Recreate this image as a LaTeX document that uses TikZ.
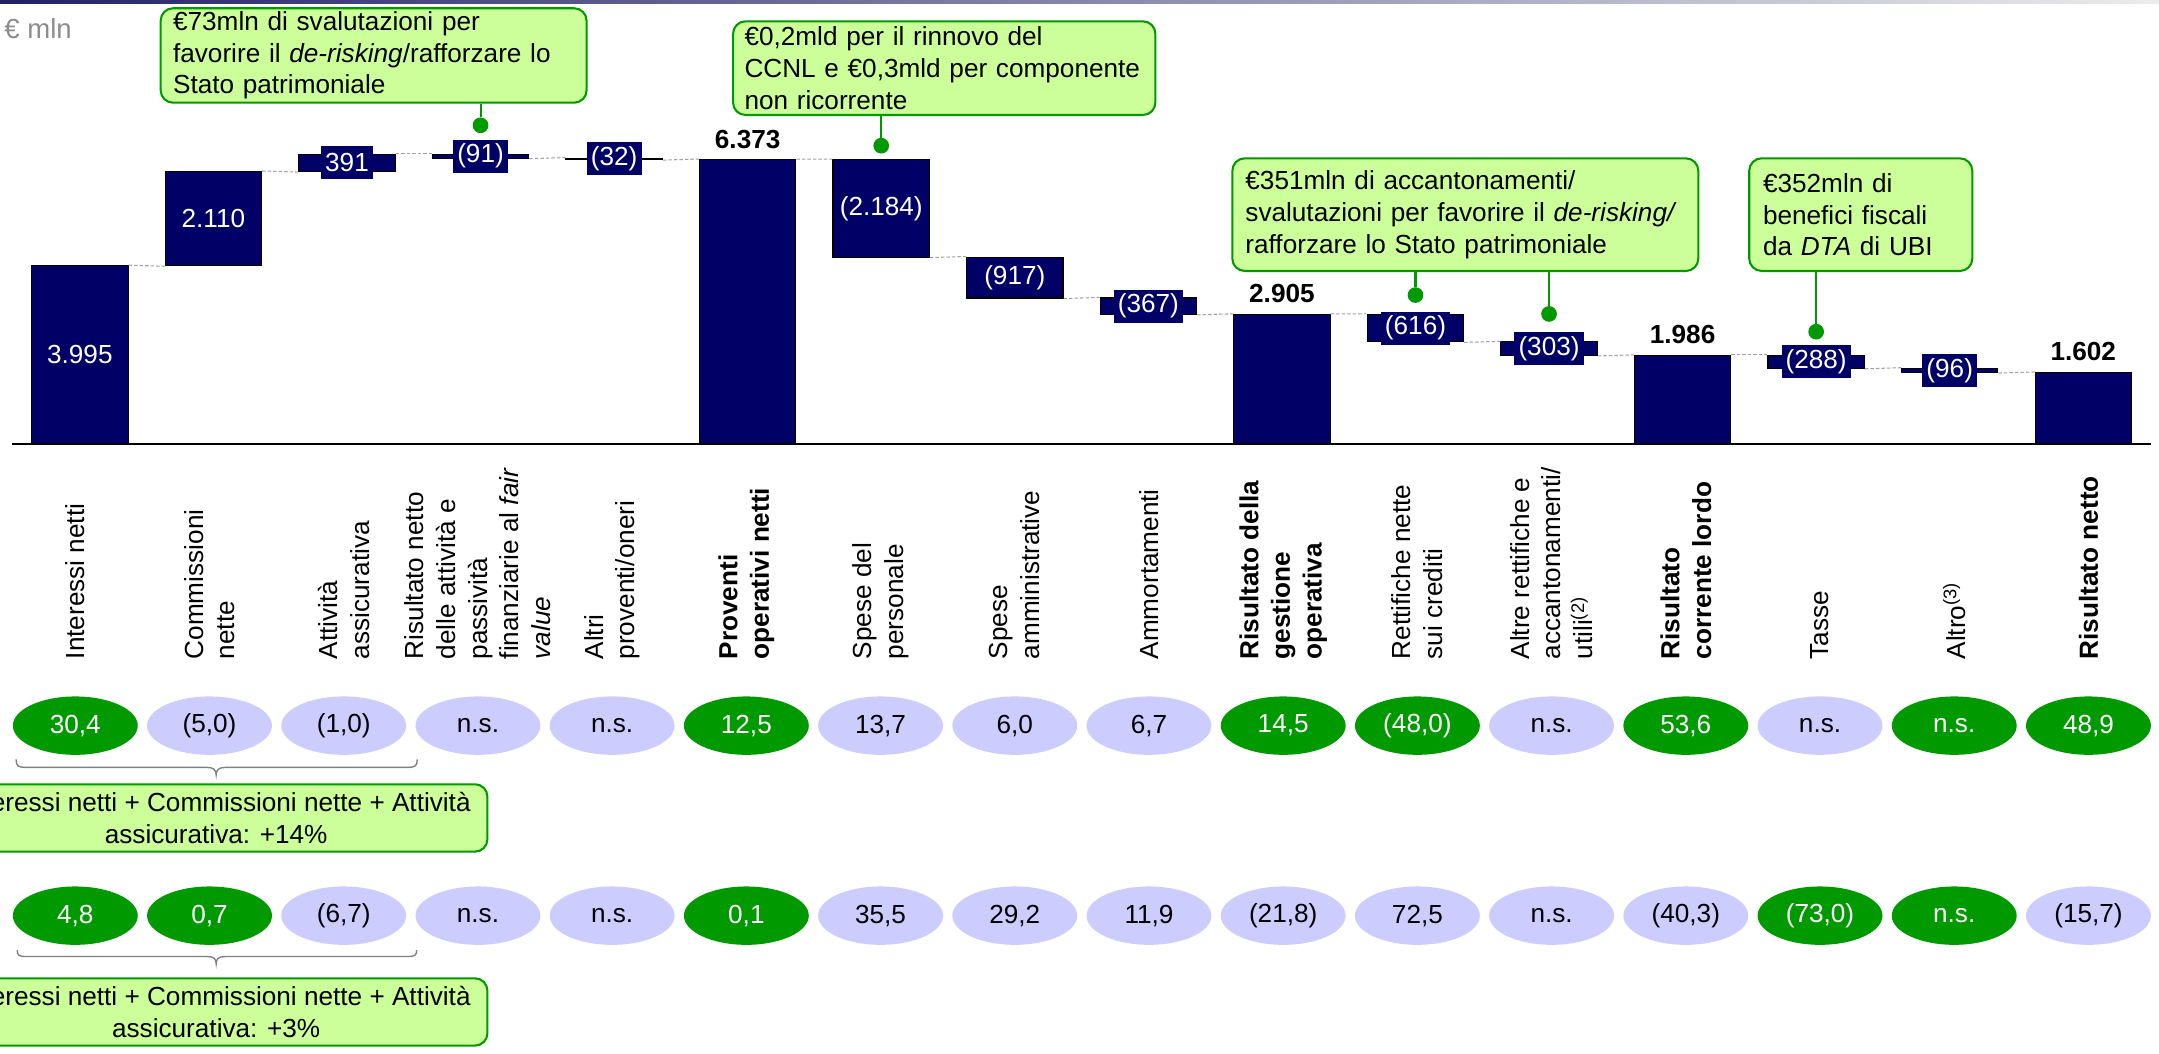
\documentclass[tikz,border=0pt]{standalone}
\usepackage{fontspec}
\setmainfont{Liberation Sans}
\usetikzlibrary{shapes.geometric}
\definecolor{navy}{HTML}{000066}
\definecolor{okgreen}{HTML}{009900}
\definecolor{lightgreen}{HTML}{CCFF99}
\definecolor{lav}{HTML}{CCCCFF}
\definecolor{dashgray}{HTML}{A0A0A0}
\definecolor{bracegray}{HTML}{808080}
\definecolor{unitgray}{HTML}{8C8C8C}
\definecolor{topnavy}{HTML}{202068}
\definecolor{toplight}{HTML}{ECECEC}
\newcommand{\myfs}{\fontsize{19}{23}\selectfont}
\begin{document}
\begin{tikzpicture}[x=1pt,y=-1pt,
  wfbar/.style={rectangle, draw=black, line width=0.8pt, fill=navy, minimum width=70pt, inner sep=0pt},
  vlab/.style={rectangle, fill=navy, text=white, inner xsep=3pt, inner ysep=0pt, minimum height=24pt, font=\myfs},
  totlab/.style={anchor=base, inner sep=0pt, font=\myfs\bfseries, text=black},
  callout/.style={rectangle, draw=okgreen, fill=lightgreen, line width=1.5pt, rounded corners=9pt, font=\myfs, inner ysep=0pt, text=black},
  ptr/.style={draw=okgreen, line width=1.5pt},
  gdot/.style={circle, fill=okgreen, minimum size=11.4pt, inner sep=0pt},
  catlab/.style={rotate=90, anchor=west, align=left, inner sep=0pt, font=\myfs, text=black},
  pill/.style={ellipse, minimum width=90.7pt, minimum height=42.4pt, inner sep=0pt, font=\myfs},
  pg/.style={pill, fill=okgreen, text=white},
  pl/.style={pill, fill=lav, text=black},
  conn/.style={draw=dashgray, dash pattern=on 2.5pt off 1.5pt, line width=0.75pt},
  brc/.style={draw=bracegray, line width=1pt}
]
\useasboundingbox (0,0) rectangle (1568,765);
\clip (0,0) rectangle (1568,765);
\fill[white] (0,0) rectangle (1568,765);
\shade[left color=topnavy, right color=toplight] (0,0) rectangle (1568,2.2);
\node[anchor=base west, inner sep=0pt, text=unitgray, font=\fontsize{20}{24}\selectfont] (unit) at (3,28) {€ mln};

% ---- bars ----
\node[wfbar, minimum height=129.52pt] (b0) at (58,257.74) {};
\node[wfbar, minimum height=68.40pt] (b1) at (155,158.78) {};
\node[wfbar, minimum height=12.68pt] (b2) at (252,118.24) {};
\node[wfbar, minimum height=2.95pt] (b3) at (349,113.375) {};
\node[wfbar, minimum height=1.04pt] (b4) at (446,115.37) {};
\node[wfbar, minimum height=206.61pt] (b5) at (543,219.195) {};
\node[wfbar, minimum height=70.80pt] (b6) at (640,151.29) {};
\node[wfbar, minimum height=29.73pt] (b7) at (737,201.555) {};
\node[wfbar, minimum height=11.90pt] (b8) at (834,222.37) {};
\node[wfbar, minimum height=94.18pt] (b9) at (931,275.41) {};
\node[wfbar, minimum height=19.97pt] (b10) at (1028,238.305) {};
\node[wfbar, minimum height=9.82pt] (b11) at (1125,253.2) {};
\node[wfbar, minimum height=64.39pt] (b12) at (1222,290.305) {};
\node[wfbar, minimum height=9.34pt] (b13) at (1319,262.78) {};
\node[wfbar, minimum height=3.11pt] (b14) at (1416,269.005) {};
\node[wfbar, minimum height=51.94pt] (b15) at (1513,296.53) {};

% ---- dashed connectors ----
\draw[conn] (b0.north east) -- (b1.south west);
\draw[conn] (b1.north east) -- (b2.south west);
\draw[conn] (b2.north east) -- (b3.north west);
\draw[conn] (b3.south east) -- (b4.north west);
\draw[conn] (b4.south east) -- (b5.north west);
\draw[conn] (b5.north east) -- (b6.north west);
\draw[conn] (b6.south east) -- (b7.north west);
\draw[conn] (b7.south east) -- (b8.north west);
\draw[conn] (b8.south east) -- (b9.north west);
\draw[conn] (b9.north east) -- (b10.north west);
\draw[conn] (b10.south east) -- (b11.north west);
\draw[conn] (b11.south east) -- (b12.north west);
\draw[conn] (b12.north east) -- (b13.north west);
\draw[conn] (b13.south east) -- (b14.north west);
\draw[conn] (b14.south east) -- (b15.north west);

% ---- axis ----
\draw[black, line width=1.5pt] (9,322.5) -- (1562,322.5);

% ---- value labels ----
\node[vlab] (v0) at (b0) {3.995};
\node[vlab] (v1) at (b1) {2.110};
\node[vlab] (v2) at (b2) {391};
\node[vlab] (v3) at (b3) {(91)};
\node[vlab] (v4) at (b4) {(32)};
\node[totlab] (v5) at ([yshift=8pt]b5.north) {6.373};
\node[vlab] (v6) at (b6) {(2.184)};
\node[vlab] (v7) at (b7) {(917)};
\node[vlab] (v8) at (b8) {(367)};
\node[totlab] (v9) at ([yshift=8pt]b9.north) {2.905};
\node[vlab] (v10) at (b10) {(616)};
\node[vlab] (v11) at (b11) {(303)};
\node[totlab] (v12) at ([yshift=8pt]b12.north) {1.986};
\node[vlab] (v13) at (b13) {(288)};
\node[vlab] (v14) at (b14) {(96)};
\node[totlab] (v15) at ([yshift=8pt]b15.north) {1.602};

% ---- callouts ----
\node[callout, text width=291.3pt, inner xsep=9pt, minimum width=309.3pt, minimum height=68.6pt, align=left] (c1) at (271.35,40.3)
  {€73mln di svalutazioni per\\favorire il \textit{de-risking}/rafforzare lo\\Stato patrimoniale};
\node[callout, text width=290.1pt, inner xsep=8.3pt, minimum width=306.7pt, minimum height=68pt, align=left] (c2) at (685.75,49.5)
  {€0,2mld per il rinnovo del\\CCNL e €0,3mld per componente\\non ricorrente};
\node[callout, text width=319.4pt, inner xsep=9.5pt, minimum width=338.4pt, minimum height=81.8pt, align=left] (c3) at (1064.2,155.9)
  {€351mln di accantonamenti/\\svalutazioni per favorire il \textit{de-risking/}\\rafforzare lo Stato patrimoniale};
\node[callout, text width=142pt, inner xsep=10pt, minimum width=162pt, minimum height=81.8pt, align=left] (c4) at (1351.4,155.9)
  {€352mln di\\benefici fiscali\\da \textit{DTA} di UBI};

\node[gdot] (d1) at (349,91) {};
\node[gdot] (d2) at (640,105.8) {};
\node[gdot] (d3) at (1028,214.3) {};
\node[gdot] (d4) at (1125,228) {};
\node[gdot] (d5) at (1319,240.9) {};
\draw[ptr] (c1.south -| d1) -- (d1);
\draw[ptr] (c2.south -| d2) -- (d2);
\draw[ptr] (c3.south -| d3) -- (d3);
\draw[ptr] (c3.south -| d4) -- (d4);
\draw[ptr] (c4.south -| d5) -- (d5);

% ---- category labels ----
\node[catlab] (n0) at (54.7,479) {Interessi netti};
\node[catlab] (n1) at (152.17,479) {Commissioni\\nette};
\node[catlab] (n2) at (249.64,479) {Attività\\assicurativa};
\node[catlab] (n3) at (347.11,479) {Risultato netto\\delle attività e\\passività\\finanziarie al \textit{fair}\\\textit{value}};
\node[catlab] (n4) at (444.58,479) {Altri\\proventi/oneri};
\node[catlab, font=\myfs\bfseries] (n5) at (542.05,479) {Proventi\\operativi netti};
\node[catlab] (n6) at (639.52,479) {Spese del\\personale};
\node[catlab] (n7) at (736.99,479) {Spese\\amministrative};
\node[catlab] (n8) at (834.46,479) {Ammortamenti};
\node[catlab, font=\myfs\bfseries] (n9) at (931.93,479) {Risultato della\\gestione\\operativa};
\node[catlab] (n10) at (1029.4,479) {Rettifiche nette\\sui crediti};
\node[catlab] (n11) at (1126.87,479) {Altre rettifiche e\\accantonamenti/\\utili\textsuperscript{(2)}};
\node[catlab, font=\myfs\bfseries] (n12) at (1224.34,479) {Risultato\\corrente lordo};
\node[catlab] (n13) at (1321.81,479) {Tasse};
\node[catlab] (n14) at (1419.28,479) {Altro\textsuperscript{(3)}};
\node[catlab, font=\myfs\bfseries] (n15) at (1516.75,479) {Risultato netto};

% ---- row 1 ----
\node[pg] (r1c0) at (54.7,527) {30,4};
\node[pl] (r1c1) at (152.17,527) {(5,0)};
\node[pl] (r1c2) at (249.64,527) {(1,0)};
\node[pl] (r1c3) at (347.11,527) {n.s.};
\node[pl] (r1c4) at (444.58,527) {n.s.};
\node[pg] (r1c5) at (542.05,527) {12,5};
\node[pl] (r1c6) at (639.52,527) {13,7};
\node[pl] (r1c7) at (736.99,527) {6,0};
\node[pl] (r1c8) at (834.46,527) {6,7};
\node[pg] (r1c9) at (931.93,527) {14,5};
\node[pg] (r1c10) at (1029.4,527) {(48,0)};
\node[pl] (r1c11) at (1126.87,527) {n.s.};
\node[pg] (r1c12) at (1224.34,527) {53,6};
\node[pl] (r1c13) at (1321.81,527) {n.s.};
\node[pg] (r1c14) at (1419.28,527) {n.s.};
\node[pg] (r1c15) at (1516.75,527) {48,9};

% ---- row 2 ----
\node[pg] (r2c0) at (54.7,665) {4,8};
\node[pg] (r2c1) at (152.17,665) {0,7};
\node[pl] (r2c2) at (249.64,665) {(6,7)};
\node[pl] (r2c3) at (347.11,665) {n.s.};
\node[pl] (r2c4) at (444.58,665) {n.s.};
\node[pg] (r2c5) at (542.05,665) {0,1};
\node[pl] (r2c6) at (639.52,665) {35,5};
\node[pl] (r2c7) at (736.99,665) {29,2};
\node[pl] (r2c8) at (834.46,665) {11,9};
\node[pl] (r2c9) at (931.93,665) {(21,8)};
\node[pl] (r2c10) at (1029.4,665) {72,5};
\node[pl] (r2c11) at (1126.87,665) {n.s.};
\node[pl] (r2c12) at (1224.34,665) {(40,3)};
\node[pg] (r2c13) at (1321.81,665) {(73,0)};
\node[pg] (r2c14) at (1419.28,665) {n.s.};
\node[pl] (r2c15) at (1516.75,665) {(15,7)};

% ---- braces ----
\draw[brc] (11.7,551.5) .. controls (11.7,556) and (13,557.3) .. (18,557.3) -- (150,557.3)
  .. controls (155,557.3) and (157,559) .. (157,562.8)
  .. controls (157,559) and (159,557.3) .. (164,557.3) -- (296.7,557.3)
  .. controls (301.7,557.3) and (303,556) .. (303,551.5);
\draw[brc] (12.5,690.1) .. controls (12.5,693.6) and (13.8,694.7) .. (18.5,694.7) -- (150.5,694.7)
  .. controls (155.5,694.7) and (157,696.5) .. (157,700)
  .. controls (157,696.5) and (158.5,694.7) .. (163.5,694.7) -- (296.6,694.7)
  .. controls (301.3,694.7) and (302.6,693.6) .. (302.6,690.1);

% ---- summary boxes ----
\node[callout, align=center, inner xsep=0pt, minimum width=394pt, minimum height=48.9pt] (c5) at (157,594.05)
  {Interessi netti + Commissioni nette + Attività\\assicurativa: +14\%};
\node[callout, align=center, inner xsep=0pt, minimum width=394pt, minimum height=48.9pt] (c6) at (157,734.95)
  {Interessi netti + Commissioni nette + Attività\\assicurativa: +3\%};
\end{tikzpicture}
\end{document}
